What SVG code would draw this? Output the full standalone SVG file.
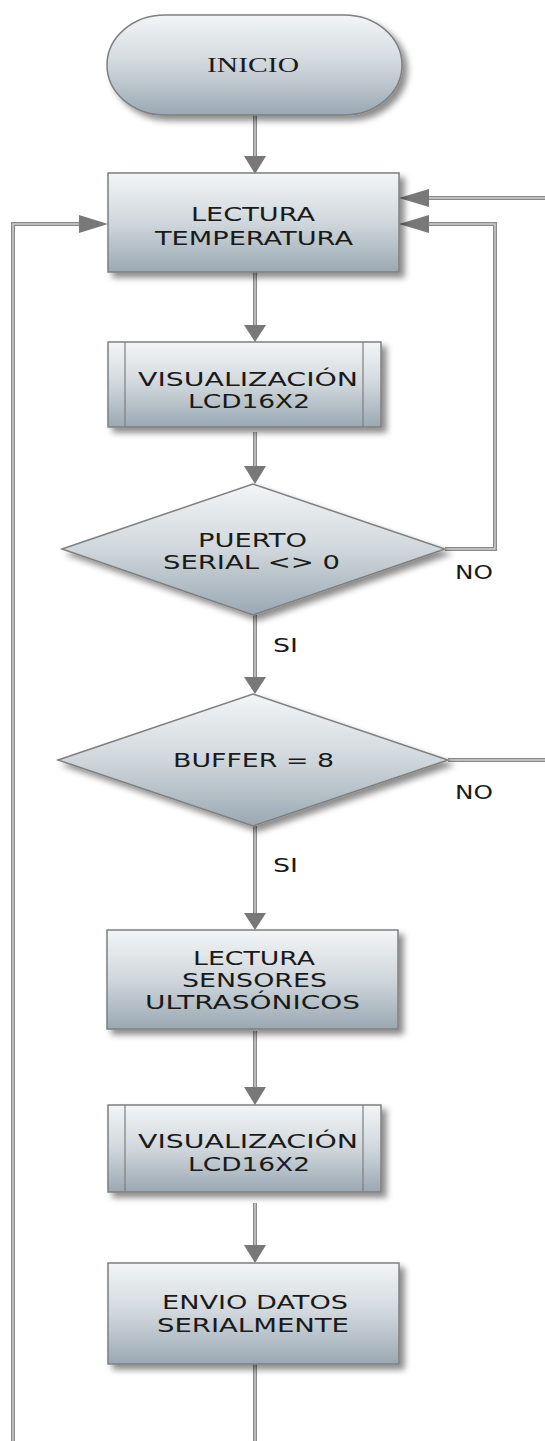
<svg xmlns="http://www.w3.org/2000/svg" width="545" height="1441" viewBox="0 0 545 1441">
<style>
.shape{fill:url(#g);stroke:#7f7f7f;stroke-width:1.5;filter:url(#sh)}
.inner{stroke:#7f7f7f;stroke-width:1.2;fill:none}
.t{font-family:"DejaVu Sans","Verdana",sans-serif;font-size:20px;fill:#1a1a1a;text-anchor:start}
.lo{stroke:#8a8a8a;stroke-width:4;fill:none}
.li{stroke:#d0d0d0;stroke-width:1.4;fill:none}
.ah{fill:#787878}
</style>
<defs>
<linearGradient id="g" x1="0" y1="0" x2="0" y2="1">
<stop offset="0" stop-color="#f3f5f6"/>
<stop offset="0.5" stop-color="#d0d7dc"/>
<stop offset="1" stop-color="#9aa8b3"/>
</linearGradient>
<filter id="sh" x="-10%" y="-10%" width="130%" height="140%">
<feDropShadow dx="5" dy="5" stdDeviation="3" flood-color="#000" flood-opacity="0.45"/>
</filter>
</defs>

<g id="connectors">
<path class="lo" d="M255 115V160"/>
<path class="li" d="M255 115V160"/>
<path class="lo" d="M255 272V328"/>
<path class="li" d="M255 272V328"/>
<path class="lo" d="M255 432V468"/>
<path class="li" d="M255 432V468"/>
<path class="lo" d="M255 615V680"/>
<path class="li" d="M255 615V680"/>
<path class="lo" d="M255 826V916"/>
<path class="li" d="M255 826V916"/>
<path class="lo" d="M255 1031V1090"/>
<path class="li" d="M255 1031V1090"/>
<path class="lo" d="M255 1203V1248"/>
<path class="li" d="M255 1203V1248"/>
<path class="lo" d="M255 1364V1441"/>
<path class="li" d="M255 1364V1441"/>
<path class="lo" d="M13 1441V224H82"/>
<path class="li" d="M13 1441V224H82"/>
<path class="lo" d="M545 198H426"/>
<path class="li" d="M545 198H426"/>
<path class="lo" d="M445 549H495V224H426"/>
<path class="li" d="M445 549H495V224H426"/>
<path class="lo" d="M448 760H545"/>
<path class="li" d="M448 760H545"/>
<polygon class="ah" points="244,156 266,156 255,174"/>
<polygon class="ah" points="244,325 266,325 255,342"/>
<polygon class="ah" points="244,466 266,466 255,484"/>
<polygon class="ah" points="244,677 266,677 255,694"/>
<polygon class="ah" points="244,913 266,913 255,930"/>
<polygon class="ah" points="244,1087 266,1087 255,1105"/>
<polygon class="ah" points="244,1245 266,1245 255,1263"/>
<polygon class="ah" points="79,215 79,233 108,224"/>
<polygon class="ah" points="429,189 429,207 399,198"/>
<polygon class="ah" points="429,215 429,233 399,224"/>
</g>

<g id="inicio">
<rect class="shape" x="107" y="15" width="295" height="100" rx="58" ry="50"/>
<text x="207" y="72" textLength="92" lengthAdjust="spacingAndGlyphs" style="font-family:'Liberation Serif',serif;font-size:21px;fill:#1a1a1a">INICIO</text>
</g>

<g id="lectura-temp">
<rect class="shape" x="108" y="173" width="291" height="99"/>
<text class="t" x="191" y="221" textLength="124" lengthAdjust="spacingAndGlyphs">LECTURA</text>
<text class="t" x="155" y="245" textLength="198" lengthAdjust="spacingAndGlyphs">TEMPERATURA</text>
</g>

<g id="visual-1">
<rect class="shape" x="108" y="342" width="273" height="85"/>
<path class="inner" d="M125 342V427M363 342V427"/>
<text class="t" x="138" y="386" textLength="220" lengthAdjust="spacingAndGlyphs">VISUALIZACIÓN</text>
<text class="t" x="188" y="408" textLength="122" lengthAdjust="spacingAndGlyphs">LCD16X2</text>
</g>

<g id="puerto">
<polygon class="shape" points="62,549 253,484 445,549 253,615"/>
<text class="t" x="198" y="547" textLength="109" lengthAdjust="spacingAndGlyphs">PUERTO</text>
<text class="t" x="163" y="569" textLength="177" lengthAdjust="spacingAndGlyphs">SERIAL &lt;&gt; 0</text>
<text class="t" x="455" y="579" textLength="38" lengthAdjust="spacingAndGlyphs">NO</text>
<text class="t" x="273" y="652" textLength="25" lengthAdjust="spacingAndGlyphs">SI</text>
</g>

<g id="buffer">
<polygon class="shape" points="58,760 253,694 448,760 253,826"/>
<text class="t" x="173" y="767" textLength="161" lengthAdjust="spacingAndGlyphs">BUFFER = 8</text>
<text class="t" x="455" y="799" textLength="38" lengthAdjust="spacingAndGlyphs">NO</text>
<text class="t" x="273" y="872" textLength="25" lengthAdjust="spacingAndGlyphs">SI</text>
</g>

<g id="lectura-sens">
<rect class="shape" x="107" y="930" width="291" height="99"/>
<text class="t" x="193" y="965" textLength="122" lengthAdjust="spacingAndGlyphs">LECTURA</text>
<text class="t" x="182" y="987" textLength="145" lengthAdjust="spacingAndGlyphs">SENSORES</text>
<text class="t" x="145" y="1009" textLength="215" lengthAdjust="spacingAndGlyphs">ULTRASÓNICOS</text>
</g>

<g id="visual-2">
<rect class="shape" x="108" y="1105" width="273" height="87"/>
<path class="inner" d="M125 1105V1192M363 1105V1192"/>
<text class="t" x="138" y="1148" textLength="220" lengthAdjust="spacingAndGlyphs">VISUALIZACIÓN</text>
<text class="t" x="188" y="1171" textLength="122" lengthAdjust="spacingAndGlyphs">LCD16X2</text>
</g>

<g id="envio">
<rect class="shape" x="108" y="1263" width="291" height="101"/>
<text class="t" x="162" y="1309" textLength="186" lengthAdjust="spacingAndGlyphs">ENVIO DATOS</text>
<text class="t" x="157" y="1332" textLength="192" lengthAdjust="spacingAndGlyphs">SERIALMENTE</text>
</g>
</svg>
